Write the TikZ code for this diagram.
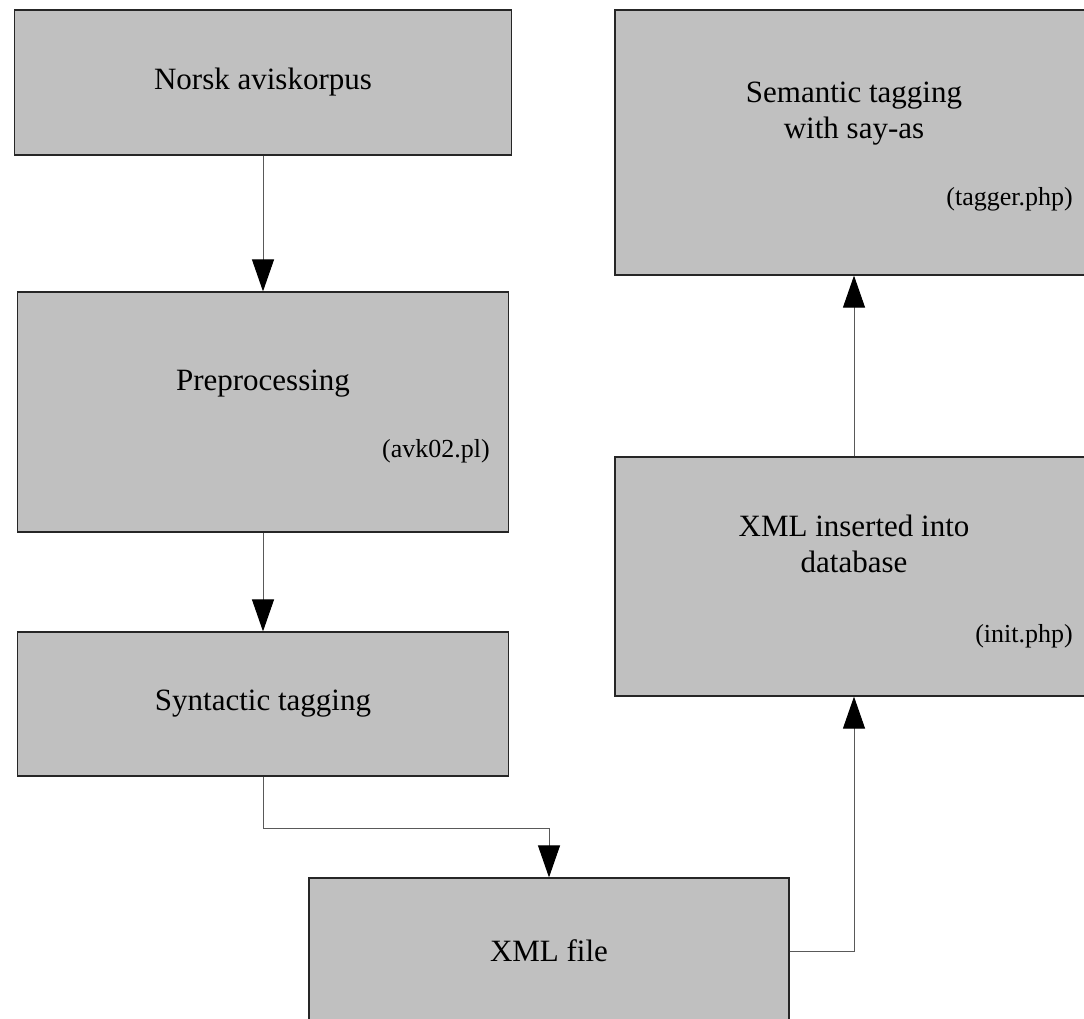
\documentclass[tikz,border=0pt]{standalone}
\usepackage{fontspec}
\setmainfont{Liberation Serif}
\usetikzlibrary{arrows.meta}
\definecolor{boxgray}{RGB}{192,192,192}
\tikzstyle{stepbox} = [rectangle, draw=black!85, line width=1.2pt, fill=boxgray, inner sep=0pt, text centered, font=\fontsize{31}{36}\selectfont]
\tikzstyle{bigtext} = [inner sep=0pt, align=center, font=\fontsize{31}{36}\selectfont]
\tikzstyle{smalltext} = [inner sep=0pt, anchor=base east, font=\fontsize{26}{30}\selectfont]
\tikzstyle{arrow} = [draw=black!65, line width=1pt, -{Triangle[length=32pt, width=22pt, color=black]}]

\begin{document}
\begin{tikzpicture}[x=1pt, y=-1pt]
\useasboundingbox (0,0) rectangle (1084,1018);
\node (norsk) [stepbox, minimum width=497pt, minimum height=145pt] at (263,82.5) {Norsk aviskorpus};
\node (prep) [stepbox, minimum width=491pt, minimum height=240pt] at (263,412) {};
\node (synt) [stepbox, minimum width=491pt, minimum height=144pt] at (263,704) {Syntactic tagging};
\node (xmlfile) [stepbox, minimum width=480pt, minimum height=146pt] at (549,951) {XML file};
\node (xmlins) [stepbox, minimum width=478pt, minimum height=239pt] at (854,576.5) {};
\node (semantic) [stepbox, minimum width=478pt, minimum height=265pt] at (854,142.5) {};
% texts inside the taller boxes
\node (preptext) [bigtext, anchor=base] at (263,390) {Preprocessing};
\node (prepscript) [smalltext] at (490,457) {(avk02.pl)};
\node (instext) [bigtext, anchor=base] at (854,572) {XML inserted into\\database};
\node (insscript) [smalltext] at (1073,642) {(init.php)};
\node (semtext) [bigtext, anchor=base] at (854,138) {Semantic tagging\\with say-as};
\node (semscript) [smalltext] at (1073,205) {(tagger.php)};
\draw [arrow] (norsk) -- (prep);
\draw [arrow] (prep) -- (synt);
\draw [arrow] (synt.south) -- ++(0,52) -| (xmlfile.north);
\draw [arrow] (xmlfile.east) -| (xmlins.south);
\draw [arrow] (xmlins) -- (semantic);
\end{tikzpicture}
\end{document}
